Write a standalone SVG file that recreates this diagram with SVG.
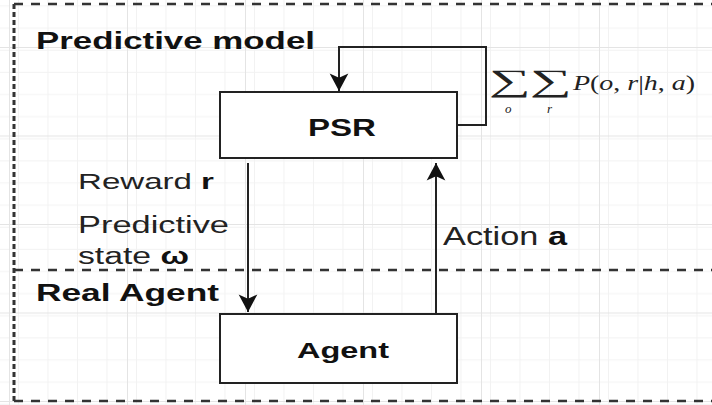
<svg xmlns="http://www.w3.org/2000/svg" width="712" height="405" viewBox="0 0 712 405">
<defs>
<pattern id="minor" patternUnits="userSpaceOnUse" x="9" y="2.75" width="29.5" height="22.125">
<path d="M0.5 0V22.125M0 0.5H29.5" fill="none" stroke="#f2f2f2" stroke-width="1"/>
</pattern>
<pattern id="major" patternUnits="userSpaceOnUse" x="9" y="-41.5" width="118" height="88.5">
<rect width="118" height="88.5" fill="url(#minor)"/>
<path d="M0.5 0V88.5M0 0.5H118" fill="none" stroke="#e4e4e4" stroke-width="1"/>
</pattern>
<marker id="arr" markerUnits="userSpaceOnUse" markerWidth="22" markerHeight="22" viewBox="-18 -10 20 20" refX="0" refY="0" orient="auto">
<path d="M0 0L-16 -8.5L-12 0L-16 8.5Z" fill="#111"/>
</marker>
<style>
.bd{fill:none;stroke:#333;stroke-width:2.5}
.h{stroke-dasharray:9 8}
.v{stroke-width:3;stroke-dasharray:5 3}
.box{fill:#fff;stroke:#222;stroke-width:2}
.ln{fill:none;stroke:#222;stroke-width:2}
.t{font-family:"Liberation Sans",Arial,sans-serif;fill:#222}
.b{font-weight:bold;fill:#111}
.m{font-family:"Liberation Serif","Times New Roman",serif;fill:#222}
</style>
</defs>
<rect width="712" height="405" fill="#fff"/>
<rect width="712" height="405" fill="url(#major)"/>
<g id="frames">
<path class="bd h" d="M14 4H712"/>
<path class="bd h" d="M14 270H712"/>
<path class="bd h" d="M14 401H712"/>
<path class="bd v" d="M14 4V401"/>
<text class="t b" x="36" y="49" font-size="24" textLength="279" lengthAdjust="spacingAndGlyphs">Predictive model</text>
<text class="t b" x="36" y="301" font-size="24" textLength="183" lengthAdjust="spacingAndGlyphs">Real Agent</text>
</g>
<g id="connectors">
<path class="ln" d="M457 125H486V47H339V91" marker-end="url(#arr)"/>
<path class="ln" d="M248 163V312" marker-end="url(#arr)"/>
<path class="ln" d="M436 314V163" marker-end="url(#arr)"/>
<text class="t" x="78" y="189" font-size="22" textLength="136" lengthAdjust="spacingAndGlyphs">Reward <tspan font-weight="bold" fill="#111">r</tspan></text>
<text class="t" x="78" y="233" font-size="23" textLength="151" lengthAdjust="spacingAndGlyphs">Predictive</text>
<text class="t" x="78" y="264" font-size="23" textLength="111" lengthAdjust="spacingAndGlyphs">state <tspan font-weight="bold" fill="#111">ω</tspan></text>
<text class="t" x="443" y="245" font-size="25" textLength="124" lengthAdjust="spacingAndGlyphs">Action <tspan font-weight="bold" fill="#111">a</tspan></text>
<g id="formula">
<text class="m" transform="translate(488.5 91) scale(1.9 1)" font-size="31">∑</text>
<text class="m" transform="translate(529.5 91) scale(1.9 1)" font-size="31">∑</text>
<text class="m" x="505" y="113" font-size="13" font-style="italic">o</text>
<text class="m" x="547" y="113" font-size="13" font-style="italic">r</text>
<text class="m" x="573" y="90" font-size="21" textLength="122" lengthAdjust="spacingAndGlyphs"><tspan font-style="italic">P</tspan>(<tspan font-style="italic">o</tspan>, <tspan font-style="italic">r</tspan>|<tspan font-style="italic">h</tspan>, <tspan font-style="italic">a</tspan>)</text>
</g>
</g>
<g id="psr">
<rect class="box" x="220" y="92" width="237" height="66"/>
<text class="t b" x="308" y="135.5" font-size="24" textLength="68" lengthAdjust="spacingAndGlyphs">PSR</text>
</g>
<g id="agent">
<rect class="box" x="220" y="314" width="237" height="69"/>
<text class="t b" x="297" y="358" font-size="22" textLength="92" lengthAdjust="spacingAndGlyphs">Agent</text>
</g>
</svg>
